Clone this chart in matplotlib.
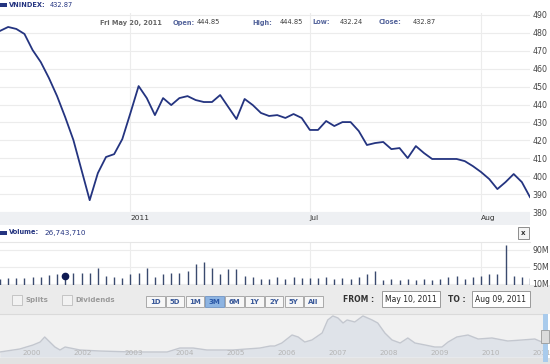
import numpy as np
import pandas as pd
import matplotlib
matplotlib.use("Agg")
import matplotlib.pyplot as plt
from matplotlib.patches import Rectangle
from matplotlib.transforms import blended_transform_factory

plt.rcParams['font.family'] = ['DejaVu Sans']

# --- data ---
dates = pd.bdate_range('2011-05-10', '2011-08-09')

close = [481.1, 483.3, 482.2, 479.4, 470.4, 463.7, 454.8, 444.7, 432.9, 420.2,
         403.4, 386.6, 401.7, 410.7, 412.3, 420.7, 435.3, 450.3, 443.6, 434.1,
         443.6, 439.7, 443.6, 444.7, 442.5, 441.4, 441.4, 445.3, 438.6, 431.9,
         443.1, 439.7, 435.3, 433.6, 434.1, 432.5, 434.7, 432.5, 425.8, 425.8,
         430.8, 428.0, 430.2, 430.2, 425.2, 417.4, 418.5, 419.1, 415.1, 415.7,
         410.1, 416.8, 412.9, 409.6, 409.6, 409.6, 409.6, 408.4, 405.6, 402.3,
         398.4, 392.8, 396.7, 401.2, 396.7, 388.3]

# volume in millions of shares
volume = [21, 23, 24, 23, 27, 27, 31, 33, 26.7, 36.6,
          36.6, 36.6, 47, 29, 27, 23, 33, 35, 47, 27,
          33, 36.6, 36.6, 40.6, 56, 61, 48, 33, 46, 44.6,
          29, 26, 22, 22, 26, 22, 26, 23, 23, 23,
          26, 22, 23, 22, 26, 34, 41, 19, 22, 19,
          22, 19, 22, 19, 22, 26, 29, 22, 27, 29,
          34, 34, 102, 29, 27, 24]

month_labels = ['2011', 'Jul', 'Aug']
price_ticks = [380, 390, 400, 410, 420, 430, 440, 450, 460, 470, 480, 490]
vol_ticks = [10, 50, 90]

hover_day = '2011-05-20'
hover_text = 'Fri May 20, 2011'
hover_open = '444.85'
hover_high = '444.85'
hover_low = '432.24'
hover_close = '432.87'
hover_volume = '26,743,710'

# long-term history for the navigator (year, index level)
nav_year = [2000.37, 2000.76, 2001.02, 2001.16, 2001.25, 2001.35, 2001.45, 2001.55,
            2001.65, 2001.75, 2001.94, 2002.33, 2002.98, 2003.65, 2003.90, 2004.16,
            2004.43, 2004.94, 2005.47, 2005.67, 2005.76, 2005.90, 2006.10, 2006.22,
            2006.35, 2006.49, 2006.69, 2006.80, 2006.90, 2007.00, 2007.10, 2007.18,
            2007.33, 2007.49, 2007.67, 2007.78, 2007.92, 2008.06, 2008.22, 2008.37,
            2008.51, 2008.71, 2008.90, 2009.04, 2009.16, 2009.33, 2009.55, 2009.75,
            2010.02, 2010.33, 2010.61, 2010.86, 2011.00, 2011.06]
nav_level = [143, 228, 342, 427, 570, 427, 285, 200,
             285, 256, 200, 171, 143, 143, 256, 256,
             200, 200, 256, 313, 313, 399, 627, 570,
             427, 485, 684, 1055, 1170, 1112, 969, 1055,
             998, 1170, 1055, 969, 684, 485, 399, 542,
             399, 342, 285, 285, 427, 570, 627, 513,
             542, 456, 485, 513, 427, 420]
nav_tick_pos = [2001, 2002, 2003, 2004, 2005, 2006, 2007, 2008, 2009, 2010, 2011]
nav_tick_labels = ['2000', '2002', '2003', '2004', '2005', '2006', '2007', '2008',
                   '2009', '2010', '2011']

buttons = ['1D', '5D', '1M', '3M', '6M', '1Y', '2Y', '5Y', 'All']
selected_button = '3M'
date_from = 'May 10, 2011'
date_to = 'Aug 09, 2011'

# --- layout helpers (pixel coordinates, top-left origin) ---
W, H = 550, 364
fig = plt.figure(figsize=(W / 100, H / 100), dpi=100)


def px_axes(x0, y0, x1, y1):
    return fig.add_axes([x0 / W, 1 - y1 / H, (x1 - x0) / W, (y1 - y0) / H])


navy = '#243480'
grid_c = '#ececec'

# background strips
bg = fig.add_axes([0, 0, 1, 1])
bg.set_xlim(0, W)
bg.set_ylim(H, 0)
bg.axis('off')
bg.add_patch(Rectangle((0, 212), 530, 13, color='#eef0f3', lw=0))
bg.add_patch(Rectangle((0, 285), W, 29, color='#ebebeb', lw=0))
bg.add_patch(Rectangle((0, 358), W, 6, color='#e2e2e2', lw=0))

x = np.arange(len(close))
month_idx = [i for i in range(1, len(dates)) if dates[i].month != dates[i - 1].month]
hover_idx = dates.get_loc(pd.Timestamp(hover_day))

# --- price panel ---
ax = px_axes(0, 13, 530, 212)
ax.plot(x, close, color=navy, lw=1.3)
ax.set_xlim(0, len(close) - 1)
ax.set_ylim(380, 491.1)
ax.set_yticks(price_ticks)
ax.set_xticks(month_idx)
ax.set_xticklabels(month_labels, ha='left')
ax.yaxis.tick_right()
ax.tick_params(axis='y', length=0, pad=1.5, labelsize=5.7, labelcolor='#444444')
ax.tick_params(axis='x', length=0, pad=2.2, labelsize=5.4, labelcolor='#333333')
ax.grid(color=grid_c, lw=0.8)
for s in ax.spines.values():
    s.set_visible(False)
ax.set_facecolor('white')

# --- volume panel ---
vax = px_axes(0, 242, 530, 285)
vax.vlines(x, 0, volume, color='#3a4a6e', lw=1.0)
vax.plot(hover_idx, float(volume[hover_idx]) + 2, 'o', color='#0e1a52', ms=4.5)
vax.set_xlim(0, len(close) - 1)
vax.set_ylim(7.6, 108.8)
vax.set_yticks(vol_ticks)
vax.set_yticklabels([f'{v}M' for v in vol_ticks])
vax.set_xticks(month_idx)
vax.set_xticklabels([])
vax.yaxis.tick_right()
vax.tick_params(axis='y', length=0, pad=1.5, labelsize=5.7, labelcolor='#444444')
vax.tick_params(axis='x', length=0)
vax.grid(color=grid_c, lw=0.8)
for s in vax.spines.values():
    s.set_visible(False)
vax.spines['top'].set_visible(True)
vax.spines['top'].set_color('#e6e6e6')

# --- navigator ---
nax = px_axes(0, 314, 545, 358)
nax.fill_between(nav_year, 0, nav_level, color='#dfe3e9', lw=0)
nax.plot(nav_year, nav_level, color='#c3c7cf', lw=1.0)
nax.set_xlim(2000.373, 2011.06)
nax.set_ylim(-28, 1225)
nax.set_facecolor('#f1f1f1')
nax.set_xticks([])
nax.set_yticks([])
for s in nax.spines.values():
    s.set_visible(False)
nax.spines['top'].set_visible(True)
nax.spines['top'].set_color('#dadada')
tr = blended_transform_factory(nax.transData, nax.transAxes)
for pos, lab in zip(nav_tick_pos, nav_tick_labels):
    nax.text(pos, 0.11, lab, transform=tr, ha='center', va='center',
             fontsize=5.2, color='#b4b4b4')

# --- overlay: headers, controls ---
ov = fig.add_axes([0, 0, 1, 1])
ov.set_xlim(0, W)
ov.set_ylim(H, 0)
ov.axis('off')
ov.patch.set_alpha(0)

ov.add_patch(Rectangle((0, 3), 7, 4, color=navy, lw=0))
ov.text(9, 5, 'VNINDEX:', fontsize=4.8, fontweight='bold', color=navy, va='center')
ov.text(50, 5, hover_close, fontsize=4.8, color=navy, va='center')

hy = 22.5
ov.text(100, hy, hover_text, fontsize=4.8, fontweight='bold', color='#666666', va='center')
label_c = '#55659c'
val_c = '#3c3c3c'
ov.text(173, hy, 'Open:', fontsize=4.8, fontweight='bold', color=label_c, va='center')
ov.text(197, hy, hover_open, fontsize=4.8, color=val_c, va='center')
ov.text(252, hy, 'High:', fontsize=4.8, fontweight='bold', color=label_c, va='center')
ov.text(280, hy, hover_high, fontsize=4.8, color=val_c, va='center')
ov.text(312, hy, 'Low:', fontsize=4.8, fontweight='bold', color=label_c, va='center')
ov.text(340, hy, hover_low, fontsize=4.8, color=val_c, va='center')
ov.text(379, hy, 'Close:', fontsize=4.8, fontweight='bold', color=label_c, va='center')
ov.text(413, hy, hover_close, fontsize=4.8, color=val_c, va='center')

# volume header
ov.add_patch(Rectangle((0, 230.5), 7, 4, color=navy, lw=0))
ov.text(9, 232.5, 'Volume:', fontsize=4.8, fontweight='bold', color=navy, va='center')
ov.text(44, 232.5, hover_volume, fontsize=5.2, color=navy, va='center')
ov.add_patch(Rectangle((518, 227), 11, 12, facecolor='#f4f4f4', edgecolor='#8c8c8c', lw=0.7))
ov.text(523.5, 233, 'x', fontsize=5, fontweight='bold', color='#333333', ha='center', va='center')

# checkboxes
for bx, lab in [(12, 'Splits'), (62, 'Dividends')]:
    ov.add_patch(Rectangle((bx, 295), 10, 10, facecolor='#f2f2f2', edgecolor='#c4c4c4', lw=0.7))
    ov.text(bx + 13, 300, lab, fontsize=5, fontweight='bold', color='#9a9a9a', va='center')

# range buttons
bx = 146
for lab in buttons:
    sel = lab == selected_button
    ov.add_patch(Rectangle((bx, 296), 18.5, 11,
                           facecolor='#8db4e2' if sel else '#f7f7f7',
                           edgecolor='#7a9cc8' if sel else '#a9a9a9', lw=0.7))
    ov.text(bx + 9.25, 301.5, lab, fontsize=5, fontweight='bold',
            color='#2b58a8' if sel else '#3b5a9a', ha='center', va='center')
    bx += 19.8

# date range boxes
ov.text(343, 300, 'FROM :', fontsize=5.5, fontweight='bold', color='#333333', va='center')
ov.add_patch(Rectangle((382, 291), 58, 16, facecolor='white', edgecolor='#9a9a9a', lw=0.7))
ov.text(385, 299.5, date_from, fontsize=5.5, color='#222222', va='center')
ov.text(448, 300, 'TO :', fontsize=5.5, fontweight='bold', color='#333333', va='center')
ov.add_patch(Rectangle((472, 291), 58, 16, facecolor='white', edgecolor='#9a9a9a', lw=0.7))
ov.text(475, 299.5, date_to, fontsize=5.5, color='#222222', va='center')

# navigator handle
ov.add_patch(Rectangle((543, 314), 5, 48, color='#a9cbec', lw=0))
ov.add_patch(Rectangle((541, 330), 8, 13, facecolor='#dcdcdc', edgecolor='#9a9a9a', lw=0.6))

fig.savefig('out.png', dpi=100)
